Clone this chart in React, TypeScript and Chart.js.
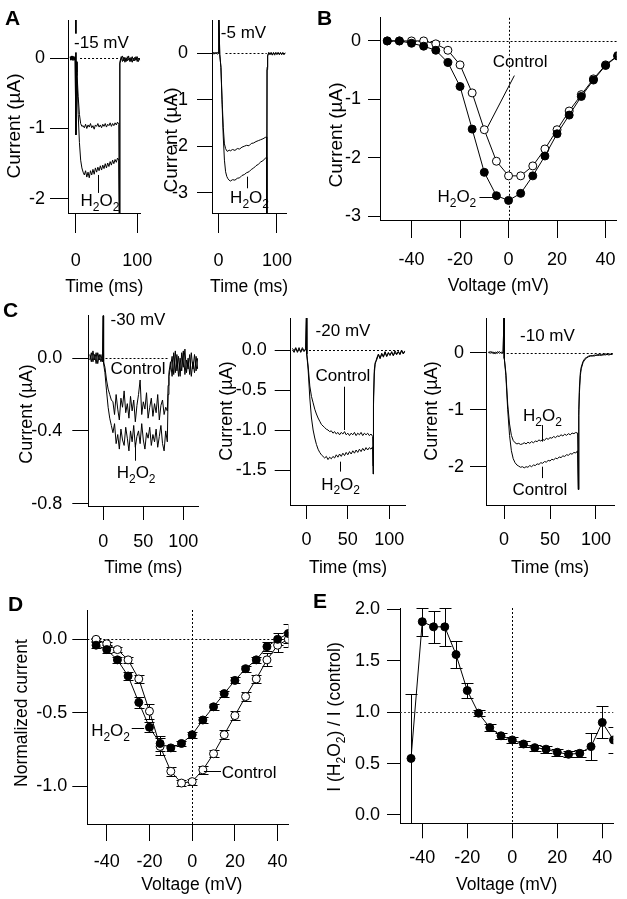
import React, { useEffect, useRef } from 'react';
import { Chart, registerables } from 'chart.js';

Chart.register(...registerables);

const FONT = '"Liberation Sans", Arial, Helvetica, sans-serif';

// ---------------- Panel A : -15 mV ----------------
const timeA15 = [-9, -8, -7, -6, -5, -4, -3, -2, -1, 0, 0.4, 1, 2, 4, 6, 8, 10, 12, 14, 16, 18, 20, 22, 24, 26, 28, 30, 32, 34, 36, 38, 40, 42, 44, 46, 48, 50, 52, 54, 56, 58, 60, 62, 64, 66, 68, 70, 71, 71.5, 72, 74, 76, 78, 80, 82, 84, 86, 88, 90, 92, 94, 96, 98, 100, 102, 104];
const ctrlA15 = [0.01, -0.03, 0.03, -0.02, 0.02, -0.03, 0.02, -0.02, 0.01, 0.6, -1.09, -0.05, -0.2, -0.55, -0.8, -0.93, -0.97, -0.96, -0.99, -0.94, -1.0, -0.95, -0.98, -0.93, -0.99, -0.96, -1.01, -0.95, -0.97, -0.93, -0.98, -0.95, -0.99, -0.94, -0.97, -0.93, -0.98, -0.94, -0.96, -0.92, -0.97, -0.93, -0.96, -0.92, -0.95, -0.91, -0.94, -2.4, -0.3, -0.06, 0.02, -0.05, 0.01, -0.06, 0.0, -0.04, 0.03, -0.05, 0.01, -0.06, 0.0, -0.04, 0.02, -0.05, 0.0, -0.03];
const h2o2A15 = [0.02, -0.02, 0.01, -0.03, 0.03, -0.01, 0.02, -0.03, 0.0, 0.6, -1.09, -0.06, -0.25, -0.8, -1.2, -1.45, -1.56, -1.62, -1.66, -1.6, -1.69, -1.62, -1.7, -1.6, -1.66, -1.58, -1.65, -1.56, -1.62, -1.55, -1.6, -1.53, -1.59, -1.52, -1.57, -1.5, -1.56, -1.49, -1.54, -1.47, -1.52, -1.45, -1.5, -1.44, -1.48, -1.42, -1.45, -2.4, -0.35, -0.08, -0.01, 0.03, -0.04, 0.01, -0.05, 0.02, -0.03, 0.0, -0.05, 0.02, -0.04, 0.01, -0.03, 0.02, -0.05, 0.0];

// ---------------- Panel A : -5 mV ----------------
const timeA5 = [-10, -8, -6, -4, -2, 0, 0.3, 2, 4, 6, 8, 10, 12, 14, 16, 18, 20, 24, 28, 32, 36, 40, 44, 48, 52, 56, 60, 64, 68, 72, 76, 80, 82, 82.5, 83, 84, 86, 88, 90, 92, 94, 96, 98, 100, 102, 104, 106, 108, 110, 112, 114];
const ctrlA5 = [0.01, -0.02, 0.02, -0.01, 0.02, 0.0, 0.9, -0.02, -0.3, -1.0, -1.6, -1.95, -2.05, -2.1, -2.11, -2.08, -2.1, -2.07, -2.09, -2.05, -2.06, -2.02, -2.0, -1.98, -1.99, -1.94, -1.93, -1.9, -1.88, -1.86, -1.84, -1.81, -1.8, -3.6, -0.3, -0.05, 0.02, -0.03, 0.01, -0.04, 0.02, -0.02, 0.01, -0.03, 0.02, -0.02, 0.0, -0.03, 0.02, -0.02, 0.01];
const h2o2A5 = [0.0, 0.02, -0.01, 0.02, -0.02, 0.0, 0.9, -0.03, -0.3, -1.1, -1.8, -2.3, -2.55, -2.65, -2.7, -2.73, -2.75, -2.72, -2.73, -2.69, -2.68, -2.63, -2.61, -2.57, -2.55, -2.5, -2.47, -2.42, -2.39, -2.34, -2.31, -2.26, -2.24, -3.6, -0.35, -0.06, 0.01, -0.02, 0.02, -0.03, 0.0, -0.04, 0.02, -0.01, 0.01, -0.03, 0.02, -0.02, 0.0, -0.03, 0.01];

// ---------------- Panel B : I-V ----------------
const voltB = [-50, -45, -40, -35, -30, -25, -20, -15, -10, -5, 0, 5, 10, 15, 20, 25, 30, 35, 40, 45];
const h2o2B = [0, 0, -0.04, -0.09, -0.16, -0.37, -0.78, -1.51, -2.25, -2.65, -2.73, -2.61, -2.31, -1.97, -1.59, -1.27, -0.95, -0.67, -0.42, -0.26];
const ctrlB = [0, 0, 0, 0, -0.05, -0.16, -0.41, -0.89, -1.52, -2.06, -2.31, -2.31, -2.14, -1.85, -1.52, -1.2, -0.92, -0.65, -0.41, -0.25];

// ---------------- Panel C : -30 mV ----------------
const timeC30 = [-17, -15, -13, -11, -9, -7, -5, -3, -1, 0, 0.3, 2, 4, 6, 8, 10, 12, 14, 16, 18, 20, 22, 24, 26, 28, 30, 32, 34, 36, 38, 40, 42, 44, 46, 48, 50, 52, 54, 56, 58, 60, 62, 64, 66, 68, 70, 72, 74, 76, 78, 80, 81, 82, 84, 86, 88, 90, 92, 94, 96, 98, 100, 102, 104, 106, 108, 110, 112, 114, 116, 118];
const ctrlC30 = [0.02, -0.02, 0.04, -0.01, 0.03, -0.03, 0.02, -0.02, 0.01, 0.3, -0.02, -0.05, -0.12, -0.17, -0.2, -0.23, -0.24, -0.31, -0.2, -0.28, -0.34, -0.22, -0.27, -0.18, -0.3, -0.25, -0.33, -0.21, -0.29, -0.23, -0.35, -0.26, -0.2, -0.12, -0.31, -0.24, -0.28, -0.19, -0.33, -0.27, -0.22, -0.32, -0.25, -0.3, -0.2, -0.34, -0.26, -0.23, -0.31, -0.27, -0.29, -0.15, -0.08, -0.02, -0.1, 0.03, -0.08, 0.02, -0.1, 0.0, -0.07, 0.04, -0.09, -0.01, -0.06, 0.02, -0.1, -0.02, -0.08, 0.01, -0.06];
const h2o2C30 = [-0.01, 0.03, -0.02, 0.02, -0.03, 0.03, -0.01, 0.02, -0.02, 0.3, -0.03, -0.08, -0.18, -0.27, -0.33, -0.37, -0.41, -0.36, -0.47, -0.42, -0.5, -0.39, -0.45, -0.48, -0.38, -0.44, -0.51, -0.4, -0.46, -0.37, -0.49, -0.43, -0.4, -0.47, -0.36, -0.45, -0.5, -0.41, -0.44, -0.38, -0.48, -0.42, -0.46, -0.39, -0.49, -0.43, -0.37, -0.47, -0.51, -0.4, -0.46, -0.2, -0.1, -0.05, 0.01, -0.09, 0.04, -0.07, 0.01, -0.1, 0.03, -0.05, 0.05, -0.08, 0.0, -0.09, 0.03, -0.06, 0.02, -0.07, 0.0];

// ---------------- Panel C : -20 mV ----------------
const timeC20 = [-17, -15, -13, -11, -9, -7, -5, -3, -1, 0, 0.3, 2, 4, 6, 8, 10, 12, 14, 16, 18, 20, 22, 24, 26, 28, 30, 32, 34, 36, 38, 40, 42, 44, 46, 48, 50, 52, 54, 56, 58, 60, 62, 64, 66, 68, 70, 72, 74, 76, 78, 80, 80.5, 81, 82, 83, 85, 87, 89, 91, 93, 95, 97, 99, 101, 103, 105, 107, 109, 111, 113, 115, 117, 119];
const ctrlC20 = [0.0, -0.03, 0.02, -0.02, 0.03, -0.03, 0.01, -0.02, 0.02, 0.5, -0.05, -0.2, -0.45, -0.58, -0.66, -0.74, -0.8, -0.85, -0.89, -0.93, -0.95, -0.97, -0.99, -1.0, -1.02, -1.01, -1.04, -1.02, -1.05, -1.03, -1.06, -1.03, -1.05, -1.02, -1.06, -1.04, -1.07, -1.04, -1.06, -1.03, -1.07, -1.04, -1.06, -1.03, -1.07, -1.04, -1.06, -1.04, -1.07, -1.05, -1.08, -1.45, -0.6, -0.25, -0.16, -0.12, -0.06, -0.1, -0.04, -0.09, -0.03, -0.08, -0.04, -0.07, -0.02, -0.07, -0.03, -0.06, -0.02, -0.06, -0.01, -0.05, -0.02];
const h2o2C20 = [0.02, -0.01, 0.03, -0.03, 0.01, -0.02, 0.03, -0.01, 0.0, 0.5, -0.05, -0.25, -0.6, -0.85, -1.0, -1.1, -1.18, -1.24, -1.28, -1.31, -1.33, -1.35, -1.33, -1.37, -1.34, -1.36, -1.33, -1.35, -1.31, -1.34, -1.3, -1.33, -1.29, -1.32, -1.28, -1.31, -1.27, -1.3, -1.26, -1.29, -1.25, -1.28, -1.24, -1.27, -1.23, -1.26, -1.22, -1.25, -1.22, -1.24, -1.21, -1.55, -0.7, -0.3, -0.18, -0.1, -0.05, -0.11, -0.05, -0.08, -0.02, -0.08, -0.03, -0.06, -0.03, -0.07, -0.01, -0.05, -0.02, -0.05, 0.0, -0.04, -0.01];

// ---------------- Panel C : -10 mV ----------------
const timeC10 = [-17, -15, -13, -11, -9, -7, -5, -3, -1, 0, 0.3, 2, 4, 6, 8, 10, 12, 14, 16, 18, 20, 22, 24, 26, 28, 30, 32, 34, 36, 38, 40, 42, 44, 46, 48, 50, 52, 54, 56, 58, 60, 62, 64, 66, 68, 70, 72, 74, 76, 78, 80, 80.8, 81.3, 82, 83, 84, 86, 88, 90, 92, 94, 96, 98, 100, 102, 104, 106, 108, 110, 112, 114, 116, 118];
const ctrlC10 = [0.01, -0.01, 0.02, -0.02, 0.01, -0.01, 0.02, -0.01, 0.0, 0.7, -0.1, -0.4, -1.0, -1.45, -1.72, -1.86, -1.93, -1.97, -1.99, -2.01, -2.0, -2.02, -2.0, -2.01, -1.98, -2.0, -1.97, -1.98, -1.95, -1.96, -1.93, -1.94, -1.91, -1.92, -1.89, -1.9, -1.87, -1.88, -1.85, -1.86, -1.83, -1.84, -1.81, -1.82, -1.79, -1.8, -1.77, -1.78, -1.75, -1.76, -1.72, -2.4, -1.1, -0.7, -0.4, -0.28, -0.17, -0.12, -0.09, -0.07, -0.06, -0.05, -0.06, -0.04, -0.05, -0.04, -0.05, -0.03, -0.04, -0.03, -0.04, -0.03, -0.03];
const h2o2C10 = [0.0, 0.02, -0.01, 0.01, -0.02, 0.02, -0.01, 0.01, -0.01, 0.7, -0.1, -0.35, -0.9, -1.25, -1.45, -1.54, -1.58, -1.6, -1.59, -1.61, -1.6, -1.58, -1.6, -1.57, -1.59, -1.56, -1.58, -1.55, -1.56, -1.53, -1.55, -1.52, -1.54, -1.5, -1.52, -1.49, -1.5, -1.47, -1.49, -1.46, -1.47, -1.44, -1.46, -1.43, -1.45, -1.42, -1.44, -1.41, -1.42, -1.4, -1.41, -2.4, -1.0, -0.6, -0.35, -0.25, -0.15, -0.1, -0.08, -0.06, -0.05, -0.06, -0.04, -0.05, -0.03, -0.04, -0.03, -0.04, -0.02, -0.03, -0.02, -0.03, -0.02];

// ---------------- Panel D : normalized I-V ----------------
const voltD = [-45, -40, -35, -30, -25, -20, -15, -10, -5, 0, 5, 10, 15, 20, 25, 30, 35, 40, 45];
const h2o2D = [-0.04, -0.07, -0.14, -0.25, -0.43, -0.6, -0.71, -0.74, -0.71, -0.65, -0.55, -0.46, -0.37, -0.28, -0.2, -0.14, -0.05, 0.0, 0.04];
const h2o2DErr = [0.02, 0.02, 0.02, 0.025, 0.035, 0.035, 0.05, 0.02, 0.02, 0.02, 0.02, 0.02, 0.02, 0.02, 0.02, 0.02, 0.03, 0.04, 0.065];
const ctrlD = [0.0, -0.03, -0.07, -0.14, -0.27, -0.49, -0.73, -0.9, -0.98, -0.97, -0.89, -0.78, -0.65, -0.52, -0.39, -0.27, -0.14, -0.04, 0.0];
const ctrlDErr = [0.01, 0.01, 0.015, 0.02, 0.025, 0.05, 0.06, 0.03, 0.02, 0.02, 0.025, 0.025, 0.03, 0.03, 0.03, 0.03, 0.045, 0.045, 0.05];

// ---------------- Panel E : ratio ----------------
const voltE = [-45, -40, -35, -30, -25, -20, -15, -10, -5, 0, 5, 10, 15, 20, 25, 30, 35, 40, 45];
const ratioE = [0.55, 1.88, 1.83, 1.83, 1.56, 1.21, 0.99, 0.85, 0.77, 0.73, 0.69, 0.655, 0.64, 0.61, 0.59, 0.6, 0.665, 0.9, 0.73];
const ratioEErr = [0.63, 0.135, 0.155, 0.185, 0.13, 0.07, 0.03, 0.03, 0.03, 0.03, 0.03, 0.03, 0.035, 0.035, 0.03, 0.035, 0.13, 0.155, 0.125];

// ---------------- tick values / labels ----------------
const timeTicksA = [0, 100];
const timeLabelsA = ['0', '100'];
const timeTicksC = [0, 50, 100];
const timeLabelsC = ['0', '50', '100'];
const voltTicks = [-40, -20, 0, 20, 40];
const voltLabels = ['-40', '-20', '0', '20', '40'];
const yTicksA15 = [0, -1, -2];
const yLabelsA15 = ['0', '-1', '-2'];
const yTicksA5 = [0, -1, -2, -3];
const yLabelsA5 = ['0', '-1', '-2', '-3'];
const yTicksB = [0, -1, -2, -3];
const yLabelsB = ['0', '-1', '-2', '-3'];
const yTicksC30 = [0, -0.4, -0.8];
const yLabelsC30 = ['0.0', '-0.4', '-0.8'];
const yTicksC20 = [0, -0.5, -1, -1.5];
const yLabelsC20 = ['0.0', '-0.5', '-1.0', '-1.5'];
const yTicksC10 = [0, -1, -2];
const yLabelsC10 = ['0', '-1', '-2'];
const yTicksD = [0, -0.5, -1];
const yLabelsD = ['0.0', '-0.5', '-1.0'];
const yTicksE = [0, 0.5, 1, 1.5, 2];
const yLabelsE = ['0.0', '0.5', '1.0', '1.5', '2.0'];

// ---------------- helpers ----------------
const pts = (xs: number[], ys: number[]) => xs.map((x, i) => ({ x, y: ys[i] }));

const trace = (xs: number[], ys: number[]) => ({
  data: pts(xs, ys),
  showLine: true,
  borderColor: '#000',
  borderWidth: 1,
  pointRadius: 0,
  fill: false,
  tension: 0,
});

const ivSeries = (xs: number[], ys: number[], filled: boolean) => ({
  data: pts(xs, ys),
  showLine: true,
  borderColor: '#000',
  borderWidth: 1,
  pointRadius: 4,
  pointBackgroundColor: filled ? '#000' : '#fff',
  pointBorderColor: '#000',
  pointBorderWidth: 1,
  fill: false,
  tension: 0,
});

function parseRich(text: string) {
  const segs: { t: string; sub: boolean }[] = [];
  for (let i = 0; i < text.length; i++) {
    const ch = text[i];
    if (ch === '_' && i + 1 < text.length) {
      segs.push({ t: text[i + 1], sub: true });
      i++;
    } else {
      const last = segs[segs.length - 1];
      if (last && !last.sub) last.t += ch;
      else segs.push({ t: ch, sub: false });
    }
  }
  return segs;
}

function drawRich(ctx: CanvasRenderingContext2D, text: string, x: number, y: number, align: string, size: number, bg?: boolean) {
  const segs = parseRich(text);
  const sub = Math.round(size * 0.7);
  const widths = segs.map((s) => {
    ctx.font = `${s.sub ? sub : size}px ${FONT}`;
    return ctx.measureText(s.t).width;
  });
  const total = widths.reduce((a, b) => a + b, 0);
  let sx = align === 'left' ? x : align === 'right' ? x - total : x - total / 2;
  if (bg) {
    ctx.fillStyle = '#fff';
    ctx.fillRect(sx - 1, y - size * 0.55, total + 2, size * 1.1);
  }
  ctx.fillStyle = '#000';
  ctx.textBaseline = 'middle';
  ctx.textAlign = 'left';
  segs.forEach((s, i) => {
    ctx.font = `${s.sub ? sub : size}px ${FONT}`;
    ctx.fillText(s.t, sx, s.sub ? y + size * 0.36 : y);
    sx += widths[i];
  });
}

function refLinesPlugin(items: any[]) {
  return {
    id: 'refLines',
    beforeDatasetsDraw(chart: any) {
      const { ctx, chartArea, scales } = chart;
      const xs = scales.x;
      const ys = scales.y;
      ctx.save();
      for (const it of items) {
        ctx.beginPath();
        ctx.setLineDash(it.dash || [2, 2]);
        ctx.lineWidth = 1;
        ctx.strokeStyle = it.color || '#000';
        if (it.axis === 'y') {
          const y = Math.round(ys.getPixelForValue(it.value)) + 0.5;
          const x1 = it.from !== undefined ? xs.getPixelForValue(it.from) : chartArea.left;
          const x2 = it.to !== undefined ? xs.getPixelForValue(it.to) : chartArea.right;
          ctx.moveTo(x1, y);
          ctx.lineTo(x2, y);
        } else {
          const x = Math.round(xs.getPixelForValue(it.value)) + 0.5;
          ctx.moveTo(x, chartArea.top);
          ctx.lineTo(x, chartArea.bottom);
        }
        ctx.stroke();
      }
      ctx.restore();
    },
  };
}

function errorBarsPlugin(series: { xs: number[]; ys: number[]; es: number[] }[], cap: number) {
  return {
    id: 'errorBars',
    beforeDatasetsDraw(chart: any) {
      const { ctx, chartArea, scales } = chart;
      ctx.save();
      ctx.beginPath();
      ctx.rect(chartArea.left, chartArea.top, chartArea.right - chartArea.left, chartArea.bottom - chartArea.top);
      ctx.clip();
      ctx.strokeStyle = '#000';
      ctx.lineWidth = 1;
      for (const s of series) {
        s.xs.forEach((xv, i) => {
          const x = Math.round(scales.x.getPixelForValue(xv)) + 0.5;
          const yTop = Math.round(scales.y.getPixelForValue(s.ys[i] + s.es[i])) + 0.5;
          const yBot = Math.round(scales.y.getPixelForValue(s.ys[i] - s.es[i])) + 0.5;
          ctx.beginPath();
          ctx.moveTo(x, yTop);
          ctx.lineTo(x, yBot);
          ctx.moveTo(x - cap, yTop);
          ctx.lineTo(x + cap, yTop);
          if (yBot < chartArea.bottom - 2) {
            ctx.moveTo(x - cap, yBot);
            ctx.lineTo(x + cap, yBot);
          }
          ctx.stroke();
        });
      }
      ctx.restore();
    },
  };
}

function notesPlugin(notes: any[]) {
  return {
    id: 'notes',
    afterDatasetsDraw(chart: any) {
      const { ctx, scales } = chart;
      ctx.save();
      for (const n of notes) {
        if (n.line) {
          const [x1, y1, x2, y2] = n.line;
          let px1 = scales.x.getPixelForValue(x1);
          let px2 = scales.x.getPixelForValue(x2);
          let py1 = scales.y.getPixelForValue(y1);
          let py2 = scales.y.getPixelForValue(y2);
          if (x1 === x2) { px1 = px2 = Math.round(px1) + 0.5; }
          if (y1 === y2) { py1 = py2 = Math.round(py1) + 0.5; }
          ctx.beginPath();
          ctx.setLineDash([]);
          ctx.strokeStyle = '#000';
          ctx.lineWidth = 1;
          ctx.moveTo(px1, py1);
          ctx.lineTo(px2, py2);
          ctx.stroke();
        } else {
          drawRich(ctx, n.text, scales.x.getPixelForValue(n.x), scales.y.getPixelForValue(n.y), n.align || 'left', 17, n.bg);
        }
      }
      ctx.restore();
    },
  };
}

type Box = { x: number; y: number; w: number; h: number };
type Area = { l: number; t: number; r: number; b: number };

type Panel = {
  id: string;
  box: Box;
  area: Area;
  x: any;
  y: any;
  datasets: any[];
  refs: any[];
  notes: any[];
  errors?: { xs: number[]; ys: number[]; es: number[] }[];
  cap?: number;
};

// axis titles: x title centred under the axis, y title rotated beside it
function axisTitlesPlugin(p: Panel) {
  return {
    id: 'axisTitles',
    afterDraw(chart: any) {
      const { ctx, chartArea } = chart;
      ctx.save();
      ctx.fillStyle = '#000';
      ctx.textAlign = 'center';
      ctx.textBaseline = 'middle';
      ctx.font = `${p.x.titleSize}px ${FONT}`;
      ctx.fillText(p.x.title, (chartArea.left + chartArea.right) / 2 + (p.x.titleDx || 0), p.x.titleAt - p.box.y);
      const midY = p.y.titleMid !== undefined ? p.y.titleMid - p.box.y : (chartArea.top + chartArea.bottom) / 2;
      ctx.translate(p.y.titleAt - p.box.x, midY);
      ctx.rotate(-Math.PI / 2);
      drawRich(ctx, p.y.title, 0, 0, 'center', p.y.titleSize);
      ctx.restore();
    },
  };
}

function makeScale(spec: any, isX: boolean, box: Box, area: Area) {
  return {
    type: 'linear',
    min: spec.min,
    max: spec.max,
    afterBuildTicks: (s: any) => {
      s.ticks = spec.ticks.map((v: number) => ({ value: v }));
    },
    afterFit: (s: any) => {
      if (isX) s.height = box.y + box.h - area.b;
      else s.width = area.l - box.x;
    },
    grid: { display: true, drawOnChartArea: false, drawTicks: true, tickLength: spec.tickLen, color: '#000', lineWidth: 1 },
    border: { display: true, color: '#000', width: 1 },
    ticks: {
      color: '#000',
      font: { family: FONT, size: 18 },
      padding: spec.labelPad,
      autoSkip: false,
      maxRotation: 0,
      minRotation: 0,
      callback: (_v: any, i: number) => spec.labels[i],
    },
    title: { display: false },
  };
}

const panels: Panel[] = [
  {
    id: 'A15',
    box: { x: 0, y: 0, w: 170, h: 300 },
    area: { l: 68, t: 20, r: 152, b: 213 },
    x: { min: -12.6, max: 105.2, ticks: timeTicksA, labels: timeLabelsA, tickLen: 20, labelPad: 17, title: 'Time (ms)', titleAt: 287, titleSize: 17.5 },
    y: { min: -2.2, max: 0.54, ticks: yTicksA15, labels: yLabelsA15, tickLen: 18, labelPad: 5, title: 'Current (µA)', titleAt: 15, titleMid: 126, titleSize: 19 },
    datasets: [trace(timeA15, ctrlA15), trace(timeA15, h2o2A15)],
    refs: [{ axis: 'y', value: 0, from: 7, to: 70 }],
    notes: [
      { text: '-15 mV', x: -2.8, y: 0.213, align: 'left', bg: true },
      { text: 'H_2O_2', x: 39.3, y: -2.04, align: 'center' },
      { line: [36.9, -1.66, 36.9, -1.915] },
    ],
  },
  {
    id: 'A5',
    box: { x: 158, y: 0, w: 152, h: 300 },
    area: { l: 212, t: 20, r: 302, b: 213 },
    x: { min: -11.3, max: 116, ticks: timeTicksA, labels: timeLabelsA, tickLen: 20, labelPad: 17, title: 'Time (ms)', titleAt: 287, titleSize: 17.5 },
    y: { min: -3.437, max: 0.717, ticks: yTicksA5, labels: yLabelsA5, tickLen: 15, labelPad: 9, title: 'Current (µA)', titleAt: 172, titleMid: 140, titleSize: 19 },
    datasets: [trace(timeA5, ctrlA5), trace(timeA5, h2o2A5)],
    refs: [{ axis: 'y', value: 0, from: 11.8, to: 82.5 }],
    notes: [
      { text: '-5 mV', x: 3.8, y: 0.43, align: 'left' },
      { text: 'H_2O_2', x: 53, y: -3.12, align: 'center' },
      { line: [49.5, -2.655, 49.5, -2.905] },
    ],
  },
  {
    id: 'B',
    box: { x: 310, y: 0, w: 317, h: 300 },
    area: { l: 380, t: 10, r: 618, b: 220 },
    x: { min: -53, max: 44.6, ticks: voltTicks, labels: voltLabels, tickLen: 18, labelPad: 11, title: 'Voltage (mV)', titleAt: 286, titleSize: 17.5 },
    y: { min: -3.066, max: 0.396, ticks: yTicksB, labels: yLabelsB, tickLen: 12, labelPad: 7, title: 'Current (µA)', titleAt: 337, titleMid: 135, titleSize: 19 },
    datasets: [ivSeries(voltB, h2o2B, true), ivSeries(voltB, ctrlB, false)],
    refs: [{ axis: 'y', value: 0, from: -50.3 }, { axis: 'x', value: 0 }],
    notes: [
      { text: 'Control', x: -6.5, y: -0.374, align: 'left' },
      { line: [2.4, -0.593, -8.6, -1.472] },
      { text: 'H_2O_2', x: -13.3, y: -2.68, align: 'right' },
      { line: [-12.0, -2.68, -4.7, -2.68] },
    ],
  },
  {
    id: 'C30',
    box: { x: 0, y: 295, w: 210, h: 290 },
    area: { l: 88.3, t: 313, r: 205, b: 506 },
    x: { min: -18.8, max: 118.5, ticks: timeTicksC, labels: timeLabelsC, tickLen: 14, labelPad: 11, title: 'Time (ms)', titleAt: 568, titleSize: 17.5 },
    y: { min: -0.813, max: 0.233, ticks: yTicksC30, labels: yLabelsC30, tickLen: 16, labelPad: 10, title: 'Current (µA)', titleAt: 27, titleMid: 414, titleSize: 18 },
    datasets: [trace(timeC30, ctrlC30), trace(timeC30, h2o2C30)],
    refs: [{ axis: 'y', value: 0, from: 2.7, to: 81 }],
    notes: [
      { text: '-30 mV', x: 9.1, y: 0.206, align: 'left' },
      { text: 'Control', x: 9.1, y: -0.06, align: 'left' },
      { text: 'H_2O_2', x: 41, y: -0.635, align: 'center' },
      { line: [40, -0.465, 40, -0.564] },
    ],
  },
  {
    id: 'C20',
    box: { x: 205, y: 295, w: 210, h: 290 },
    area: { l: 290.7, t: 318, r: 409.3, b: 505 },
    x: { min: -19.1, max: 119.4, ticks: timeTicksC, labels: timeLabelsC, tickLen: 14, labelPad: 10, title: 'Time (ms)', titleAt: 568, titleSize: 17.5 },
    y: { min: -1.9375, max: 0.4, ticks: yTicksC20, labels: yLabelsC20, tickLen: 16, labelPad: 8, title: 'Current (µA)', titleAt: 227, titleMid: 411, titleSize: 18 },
    datasets: [trace(timeC20, ctrlC20), trace(timeC20, h2o2C20)],
    refs: [{ axis: 'y', value: 0, from: 3, to: 113 }],
    notes: [
      { text: '-20 mV', x: 11, y: 0.229, align: 'left' },
      { text: 'Control', x: 11, y: -0.334, align: 'left' },
      { line: [45, -0.459, 45, -1.0] },
      { text: 'H_2O_2', x: 41.2, y: -1.6875, align: 'center' },
      { line: [40.3, -1.396, 40.3, -1.52] },
    ],
  },
  {
    id: 'C10',
    box: { x: 410, y: 295, w: 217, h: 290 },
    area: { l: 486, t: 318, r: 614, b: 505 },
    x: { min: -19.6, max: 119.6, ticks: timeTicksC, labels: timeLabelsC, tickLen: 14, labelPad: 10, title: 'Time (ms)', titleAt: 568, titleSize: 17.5 },
    y: { min: -2.672, max: 0.609, ticks: yTicksC10, labels: yLabelsC10, tickLen: 16, labelPad: 6, title: 'Current (µA)', titleAt: 432, titleMid: 411, titleSize: 18 },
    datasets: [trace(timeC10, ctrlC10), trace(timeC10, h2o2C10)],
    refs: [{ axis: 'y', value: 0, from: 2.9 }],
    notes: [
      { text: '-10 mV', x: 17.4, y: 0.281, align: 'left' },
      { text: 'H_2O_2', x: 41.8, y: -1.123, align: 'center' },
      { line: [41.6, -1.27, 41.6, -1.56] },
      { text: 'Control', x: 39.1, y: -2.409, align: 'center' },
      { line: [41.6, -2.0, 41.6, -2.2] },
    ],
  },
  {
    id: 'D',
    box: { x: 0, y: 590, w: 305, h: 309 },
    area: { l: 87.3, t: 610, r: 288.3, b: 824 },
    x: { min: -49.1, max: 45, ticks: voltTicks, labels: voltLabels, tickLen: 17, labelPad: 10, title: 'Voltage (mV)', titleAt: 885, titleSize: 17.5, titleDx: 4 },
    y: { min: -1.259, max: 0.2, ticks: yTicksD, labels: yLabelsD, tickLen: 15, labelPad: 5, title: 'Normalized current', titleAt: 22, titleMid: 713, titleSize: 17.5 },
    datasets: [ivSeries(voltD, h2o2D, true), ivSeries(voltD, ctrlD, false)],
    refs: [{ axis: 'y', value: 0 }, { axis: 'x', value: 0 }],
    notes: [
      { text: 'H_2O_2', x: -29.1, y: -0.63, align: 'right' },
      { line: [-28.3, -0.605, -22.5, -0.605] },
      { text: 'Control', x: 13.8, y: -0.913, align: 'left' },
      { line: [5.5, -0.896, 13.5, -0.896] },
    ],
    errors: [
      { xs: voltD, ys: h2o2D, es: h2o2DErr },
      { xs: voltD, ys: ctrlD, es: ctrlDErr },
    ],
    cap: 5,
  },
  {
    id: 'E',
    box: { x: 305, y: 590, w: 322, h: 309 },
    area: { l: 400, t: 608, r: 613.3, b: 823.3 },
    x: { min: -49.9, max: 44.9, ticks: voltTicks, labels: voltLabels, tickLen: 15, labelPad: 9, title: 'Voltage (mV)', titleAt: 885, titleSize: 17.5 },
    y: { min: -0.081, max: 2.013, ticks: yTicksE, labels: yLabelsE, tickLen: 13, labelPad: 7, title: 'I (H_2O_2) / I (control)', titleAt: 335, titleMid: 717, titleSize: 17.5 },
    datasets: [ivSeries(voltE, ratioE, true)],
    refs: [{ axis: 'y', value: 1, color: '#444' }, { axis: 'x', value: 0 }],
    notes: [],
    errors: [{ xs: voltE, ys: ratioE, es: ratioEErr }],
    cap: 6,
  },
];

const letters = [
  { t: 'A', x: 5, y: 7 },
  { t: 'B', x: 317, y: 7 },
  { t: 'C', x: 3, y: 299 },
  { t: 'D', x: 8, y: 593 },
  { t: 'E', x: 313, y: 590 },
];

function buildConfig(p: Panel): any {
  const plugins: any[] = [refLinesPlugin(p.refs)];
  if (p.errors) plugins.push(errorBarsPlugin(p.errors, p.cap || 5));
  plugins.push(notesPlugin(p.notes));
  plugins.push(axisTitlesPlugin(p));
  return {
    type: 'scatter',
    data: { datasets: p.datasets },
    options: {
      animation: false,
      responsive: false,
      maintainAspectRatio: false,
      events: [],
      layout: {
        padding: {
          left: 0,
          top: p.area.t - p.box.y,
          right: p.box.x + p.box.w - p.area.r,
          bottom: 0,
        },
      },
      plugins: { legend: { display: false }, tooltip: { enabled: false } },
      scales: {
        x: makeScale(p.x, true, p.box, p.area),
        y: makeScale(p.y, false, p.box, p.area),
      },
    },
    plugins,
  };
}

function PanelChart({ p }: { p: Panel }) {
  const ref = useRef<HTMLCanvasElement>(null);
  useEffect(() => {
    if (!ref.current) return;
    const chart = new Chart(ref.current, buildConfig(p));
    return () => chart.destroy();
  }, [p]);
  return (
    <canvas
      ref={ref}
      width={p.box.w}
      height={p.box.h}
      style={{ position: 'absolute', left: p.box.x, top: p.box.y, width: p.box.w, height: p.box.h }}
    />
  );
}

export default function App() {
  return (
    <div style={{ position: 'absolute', left: 0, top: 0, width: 627, height: 899, background: '#fff', overflow: 'hidden' }}>
      {panels.map((p) => (
        <PanelChart key={p.id} p={p} />
      ))}
      {letters.map((l) => (
        <div
          key={l.t}
          style={{ position: 'absolute', left: l.x, top: l.y, font: `bold 21px ${FONT}`, lineHeight: '21px', color: '#000' }}
        >
          {l.t}
        </div>
      ))}
    </div>
  );
}
